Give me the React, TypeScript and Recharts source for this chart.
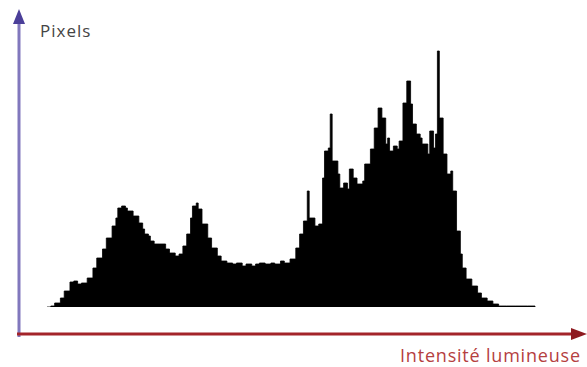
import React from 'react';
import { AreaChart, Area, XAxis, YAxis, Customized } from 'recharts';

// intensity level (0-255) and pixel count
const levels = [
  0, 2, 4, 7, 9, 12, 14, 16, 18, 21, 24, 26, 29, 31, 34, 36, 37, 39, 41, 42,
  45, 48, 50, 51, 53, 54, 56, 59, 62, 64, 67, 69, 71, 73, 75, 76, 78, 79, 81, 84,
  86, 89, 91, 94, 97, 99, 102, 104, 107, 109, 111, 114, 117, 119, 122, 124, 127, 130, 132, 134,
  136, 137, 140, 142, 144, 145, 147, 148, 149, 152, 153, 155, 157, 158, 160, 162, 165, 166, 169, 171,
  173, 175, 177, 178, 179, 181, 183, 184, 186, 188, 190, 191, 193, 195, 196, 199, 200, 202, 203, 204,
  205, 207, 209, 211, 212, 214, 216, 217, 219, 222, 225, 227, 230, 233, 236, 240, 245, 251, 255,
];
const counts = [
  0, 1, 4, 9, 16, 25, 26, 23, 24, 29, 39, 49, 58, 69, 81, 89, 99, 101, 99, 96,
  91, 84, 78, 73, 71, 66, 63, 63, 58, 54, 51, 53, 61, 73, 89, 101, 104, 98, 83, 69,
  59, 51, 46, 44, 43, 44, 41, 43, 41, 43, 44, 43, 44, 43, 46, 44, 48, 59, 73, 86,
  116, 89, 81, 83, 129, 156, 159, 193, 146, 133, 119, 124, 118, 138, 129, 123, 126, 143, 158, 179,
  199, 189, 163, 169, 156, 161, 158, 166, 204, 226, 203, 183, 173, 169, 163, 153, 176, 159, 173, 256,
  189, 153, 133, 136, 116, 76, 53, 39, 28, 21, 14, 9, 6, 3, 1, 1, 1, 1, 0,
];

const yLabel = 'Pixels';
const xLabel = 'Intensité lumineuse';

const data = levels.map((level, i) => ({ level, count: counts[i] }));

const Axes = () => (
  <g>
    {/* vertical axis (blue) */}
    <line x1={19} y1={337} x2={19} y2={22} stroke="#8178bd" strokeWidth={3} />
    <polygon points="19,9 13,24 25,24" fill="#4b3f99" />
    <text x={40} y={37} fontSize={17} letterSpacing={1} fill="#444" fontFamily="Open Sans, sans-serif">
      {yLabel}
    </text>
    {/* horizontal axis (red) */}
    <line x1={17} y1={334} x2={574} y2={334} stroke="#a3242a" strokeWidth={3} />
    <polygon points="587,334 571,328 571,340" fill="#8e1a20" />
    <text x={400} y={362} fontSize={18} letterSpacing={0.8} fill="#b5403f" fontFamily="Open Sans, sans-serif">
      {xLabel}
    </text>
  </g>
);

export default function App() {
  return (
    <div style={{ position: 'absolute', left: 0, top: 0, background: '#fff' }}>
      <AreaChart
        width={587}
        height={367}
        data={data}
        margin={{ top: 47, right: 52, bottom: 60, left: 47 }}
      >
        <XAxis dataKey="level" type="number" domain={[0, 255]} hide />
        <YAxis type="number" domain={[0, 260]} allowDataOverflow hide />
        <Area
          type="stepAfter"
          dataKey="count"
          stroke="#000"
          strokeWidth={0.8}
          fill="#000"
          fillOpacity={1}
          isAnimationActive={false}
        />
        <Customized component={<Axes />} />
      </AreaChart>
    </div>
  );
}
